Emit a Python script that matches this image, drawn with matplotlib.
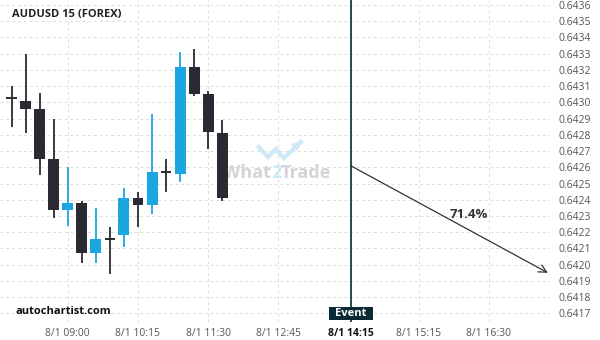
import matplotlib.pyplot as plt
from matplotlib.patches import Rectangle
import numpy as np

# candle data (15 min bars)
opens = [0.64303, 0.64301, 0.64296, 0.64265, 0.64234, 0.64238, 0.64207, 0.64216,
         0.64218, 0.64241, 0.64237, 0.64257, 0.64256, 0.64322, 0.64305, 0.64281]
highs = [0.64310, 0.64330, 0.64306, 0.64290, 0.64260, 0.64239, 0.64235, 0.64223,
         0.64247, 0.64245, 0.64293, 0.64265, 0.64331, 0.64333, 0.64307, 0.64289]
lows = [0.64285, 0.64281, 0.64255, 0.64229, 0.64224, 0.64201, 0.64201, 0.64194,
        0.64211, 0.64223, 0.64231, 0.64245, 0.64251, 0.64304, 0.64271, 0.64239]
closes = [0.64303, 0.64296, 0.64265, 0.64234, 0.64238, 0.64207, 0.64216, 0.64216,
          0.64241, 0.64237, 0.64257, 0.64257, 0.64322, 0.64305, 0.64282, 0.64241]

tick_pos = [4, 9, 14, 19, 24.15, 29, 34]
tick_labels = ["8/1 09:00", "8/1 10:15", "8/1 11:30", "8/1 12:45",
               "8/1 14:15", "8/1 15:15", "8/1 16:30"]
event_idx = 24.15
event_price = 0.64261
target_idx = 38.2
target_price = 0.64195
probability = "71.4%"
yticks = [0.6417 + 0.0001 * i for i in range(20)]

dark = "#2b2a33"
blue = "#1aa7e0"

fig = plt.figure(figsize=(6, 3.4), dpi=100)
ax = fig.add_axes([0, 18 / 340, 550 / 600, 322 / 340])

ax.set_xlim(-0.83, 38.35)
ax.set_ylim(0.641647, 0.643631)

for s in ax.spines.values():
    s.set_visible(False)

ax.set_yticks(yticks)
ax.set_yticklabels(["%.4f" % v for v in yticks])
ax.yaxis.tick_right()
ax.set_xticks(tick_pos)
ax.set_xticklabels(tick_labels)
ax.tick_params(length=0, labelsize=7.5, labelcolor="#555555", pad=4)
ax.tick_params(axis="y", pad=6)
for lab in ax.get_yticklabels() + ax.get_xticklabels():
    lab.set_fontfamily("Open Sans")
ax.grid(True, color="#dddddd", linestyle=(0, (3, 3)), linewidth=0.7)
ax.set_axisbelow(True)

# watermark
wm = dict(fontsize=13, fontweight="bold", va="center", family="Open Sans", zorder=2)
ax.text(18.5, 0.642565, "What", color="#d4d4d4", ha="right", **wm)
ax.text(18.5, 0.642565, "2", color="#cfe8f5", ha="left", **wm)
ax.text(19.15, 0.642565, "Trade", color="#d4d4d4", ha="left", **wm)
ax.plot([17.61, 18.26, 18.82, 19.39, 20.6], [0.642725, 0.642663, 0.642713, 0.642657, 0.642756],
        color="#cfe8f5", linewidth=3, zorder=2, solid_joinstyle="miter")
ax.annotate("", xy=(20.8, 0.642772), xytext=(20.3, 0.642733),
            arrowprops=dict(arrowstyle="-|>", color="#cfe8f5", lw=2, mutation_scale=10), zorder=2)

xs = np.arange(len(opens))
for i in xs:
    o, h, l, c = opens[i], highs[i], lows[i], closes[i]
    col = blue if c > o else dark
    ax.vlines(i, l, h, color=col, linewidth=1.3, zorder=3)
    if abs(c - o) < 0.000015:
        ax.hlines(o, i - 0.38, i + 0.38, color=col, linewidth=1.4, zorder=4)
    else:
        ax.bar(i, abs(c - o), bottom=min(o, c), width=0.78, color=col, zorder=4)

# event line
ax.axvline(event_idx, color="#0b2a33", linewidth=1.2, zorder=5)
ax.annotate("", xy=(target_idx, target_price), xytext=(event_idx, event_price),
            arrowprops=dict(arrowstyle="->", color="#333333", lw=0.9,
                            mutation_scale=14, shrinkA=0, shrinkB=0), zorder=5)
ax.text(32.57, 0.642312, probability, fontsize=9.5, fontweight="bold",
        color="#333333", ha="center", va="center", family="Open Sans")

# event label under line
xl = ax.get_xticklabels()[4]
xl.set_fontweight("bold")
xl.set_color("#111111")
xl.set_fontstretch("condensed")
ex = (event_idx + 0.83) / (38.35 + 0.83) * 550 / 600
fig.patches.append(Rectangle((ex - 22 / 600, 1 - 320 / 340), 44 / 600, 13 / 340,
                             transform=fig.transFigure, fc="#0b2a33", ec="none", zorder=6))
fig.text(ex, 1 - 313.5 / 340, "Event", color="white", fontsize=8, fontweight="bold",
         ha="center", va="center", family="Open Sans", zorder=7)

fig.text(12 / 600, 1 - 14 / 340, "AUDUSD 15 (FOREX)", fontsize=8, fontweight="bold",
         color="#222222", va="center", family="Open Sans")
fig.text(16 / 600, 1 - 311 / 340, "autochartist.com", fontsize=8, fontweight="bold",
         color="#111111", va="center", family="Open Sans")

fig.savefig("out.png", dpi=100, facecolor="white")
